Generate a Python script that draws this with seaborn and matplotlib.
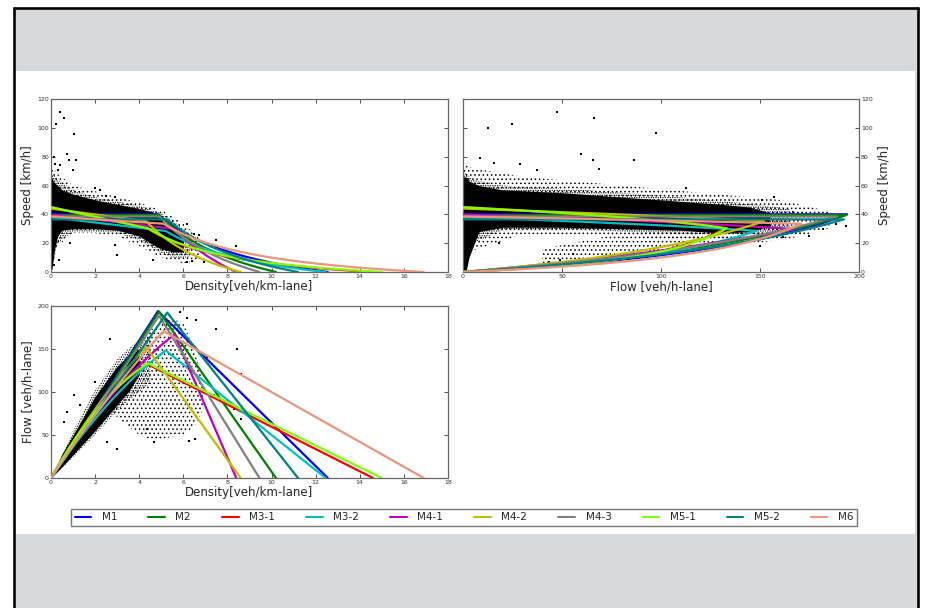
import numpy as np
import pandas as pd
import matplotlib
matplotlib.use("Agg")
import matplotlib.pyplot as plt
from matplotlib.lines import Line2D
from matplotlib.patches import Rectangle
import seaborn as sns

# ---------------- data ----------------
MODELS = ["M1", "M2", "M3-1", "M3-2", "M4-1", "M4-2", "M4-3", "M5-1", "M5-2", "M6"]
COLORS = ["#0000ff", "#008000", "#ff0000", "#00bfbf", "#bf00bf",
          "#bfbf00", "#808080", "#7fff00", "#008080", "#e9967a"]
# model parameters (fundamental diagrams)
V_FREE = [40.0, 39.5, 45.0, 38.0, 40.0, 44.0, 38.5, 45.0, 36.5, 38.5]   # km/h at k=0
V_CRIT = [40.0, 39.5, 30.0, 28.5, 29.8, 35.2, 38.5, 30.3, 36.5, 33.5]   # km/h at critical density
K_CRIT = [4.85, 4.90, 4.40, 5.20, 5.60, 4.32, 4.90, 4.40, 5.27, 5.10]   # veh/km-lane
K_JAM = [12.55, 10.2, 14.6, 12.45, 8.4, 8.6, 9.45, 15.0, 11.2, 16.9]    # veh/km-lane

# speed-density observations: dense core, fringe, sparse halo (bounds), outliers
SD_CORE_K = [0.0, 0.05, 0.15, 0.3, 0.5, 1.0, 2.0, 3.0, 4.0, 4.5, 5.0, 5.5, 6.0]
SD_CORE_LO = [2, 2, 15, 25, 29, 30, 30, 29, 25, 20, 16, 14, 14]
SD_CORE_HI = [65, 65, 62, 60, 57, 54, 50, 47, 44, 42, 38, 33, 22]
SD_FRINGE_K = [0.0, 0.3, 1.0, 2.0, 3.0, 4.0, 5.0, 5.5, 6.3]
SD_FRINGE_LO = [0, 20, 28, 28, 27, 22, 13, 10, 10]
SD_FRINGE_HI = [70, 64, 57, 52, 49, 46, 41, 36, 26]
SD_HALO_K = [0.0, 0.3, 1.0, 2.0, 3.0, 4.0, 5.0, 6.0, 6.8]
SD_HALO_LO = [0, 18, 27, 27, 25, 18, 10, 6, 8]
SD_HALO_HI = [75, 68, 60, 56, 52, 48, 43, 34, 22]
SD_OUT_K = [0.42, 0.6, 0.24, 1.03, 0.73, 0.83, 1.12, 1.0, 0.12, 0.2, 0.42, 0.3, 1.98, 2.5,
            2.9, 2.24, 0.88, 2.92, 3.0, 4.62, 6.17, 6.4, 6.95, 7.5, 8.39, 6.7, 6.17, 6.5,
            0.05, 0.12, 0.35]
SD_OUT_V = [111, 107, 103, 95.7, 81.8, 78, 78, 70.7, 80, 75, 74, 70.7, 58, 53,
            52, 56.7, 20, 18.5, 11.6, 8.6, 7, 7.9, 7.2, 22, 17.8, 25.5, 33, 26.6,
            11.6, 4.6, 8]

# speed-flow observations
SF_CORE_Q = [0, 1.5, 3, 8, 20, 50, 80, 110, 130, 145, 155]
SF_CORE_LO = [0, 0, 10, 28, 31, 31, 30, 29, 27, 28, 32]
SF_CORE_HI = [66, 66, 63, 60, 57, 55, 52, 49, 47, 45, 41]
SF_FRINGE_Q = [0, 5, 20, 60, 100, 140, 165]
SF_FRINGE_LO = [0, 20, 29, 29, 27, 26, 28]
SF_FRINGE_HI = [70, 64, 60, 57, 53, 48, 44]
SF_HALO_Q = [0, 5, 30, 80, 120, 160, 185]
SF_HALO_LO = [0, 15, 26, 25, 23, 25, 30]
SF_HALO_HI = [75, 72, 66, 60, 55, 50, 42]
SF_CONG_Q = [40, 70, 100, 130, 160, 175]
SF_CONG_LO = [6, 10, 14, 18, 22, 26]
SF_CONG_HI = [16, 24, 29, 29, 30, 32]
SF_OUT_Q = [47.7, 66.2, 24.5, 12.6, 97.5, 59.5, 86.5, 65.9, 8.4, 15.5, 28.9, 37.3, 68.9,
            112.6, 150.8, 157, 166.7, 183.5, 188.6, 193.6, 163.4, 161.7, 150, 18, 49,
            43.2, 55.8, 175, 181.8]
SF_OUT_V = [111, 106.6, 103, 99.6, 96.1, 81.8, 78, 78, 78.8, 75.3, 74.8, 70.7, 71.1,
            58.1, 49.8, 51.7, 41.7, 39.4, 33.1, 32, 29, 24.3, 17.8, 20.2, 8.1,
            7, 12.3, 24.8, 30]

# flow-density observations
FD_CORE_K = [0.0, 0.5, 1.0, 2.0, 3.0, 3.5, 4.0]
FD_CORE_LO = [0, 13, 27, 55, 85, 100, 120]
FD_CORE_HI = [0, 28, 50, 95, 130, 142, 150]
FD_FRINGE_K = [0.0, 1.0, 2.0, 3.0, 3.5, 4.0, 4.5]
FD_FRINGE_LO = [0, 24, 50, 78, 90, 100, 110]
FD_FRINGE_HI = [0, 55, 102, 138, 150, 160, 165]
FD_LATT_K = [2.8, 3.5, 4.0, 4.5, 5.0, 5.5, 6.0, 6.5, 6.9]
FD_LATT_LO = [75, 60, 50, 45, 45, 48, 50, 60, 80]
FD_LATT_HI = [115, 145, 160, 172, 180, 185, 180, 150, 110]
FD_OUT_K = [1.03, 0.57, 0.73, 1.33, 2.0, 2.54, 3.0, 4.35, 4.65, 6.24, 6.54, 8.43, 7.5,
            5.86, 6.17, 8.61, 7.07, 6.57, 2.69, 8.63, 8.28, 7.37]
FD_OUT_Q = [96.3, 65.2, 76.9, 84.7, 111.8, 41.9, 34.2, 57.5, 41.9, 43.1, 45.8, 150, 172.8,
            193.4, 185.6, 120.4, 141, 183.7, 162, 69, 80.8, 96.3]

# ---------------- model curves (derived from the parameters) ----------------
rows = []
for name, vf, vc, kc, kj in zip(MODELS, V_FREE, V_CRIT, K_CRIT, K_JAM):
    kf = np.linspace(0.0, kc, 40)
    vfr = vf - (vf - vc) * kf / kc
    qc = kc * vc
    kcg = np.linspace(kc, kj, 120)[1:]
    qcg = qc * (kj - kcg) / (kj - kc)
    vcg = qcg / kcg
    k_all = np.concatenate([kf, kcg])
    v_all = np.concatenate([vfr, vcg])
    q_all = np.concatenate([kf * vfr, qcg])
    for i, (k, v, q) in enumerate(zip(k_all, v_all, q_all)):
        rows.append((name, i, k, v, q))
curves = pd.DataFrame(rows, columns=["model", "idx", "k", "v", "q"])

# ---------------- style ----------------
sns.set_style("white", {
    "xtick.direction": "in", "ytick.direction": "in",
    "xtick.top": True, "ytick.right": True,
    "xtick.bottom": True, "ytick.left": True,
    "axes.edgecolor": "#555555",
})
plt.rcParams["font.family"] = ["DejaVu Sans"]
plt.rcParams["hatch.linewidth"] = 0.6

W, H = 929, 608
fig = plt.figure(figsize=(W / 100, H / 100), dpi=100)
fig.patch.set_facecolor("white")

# page decoration: gray frame with white panel
GRAY = "#d8d9db"
fig.patches.append(Rectangle((14 / W, 0), (918 - 14) / W, 1 - 8 / H, transform=fig.transFigure,
                             facecolor=GRAY, edgecolor="none", zorder=-10))
fig.patches.append(Rectangle((15 / W, 1 - 534 / H), (915 - 15) / W, (534 - 71) / H,
                             transform=fig.transFigure, facecolor="white",
                             edgecolor="none", zorder=-9))
for xs, ys in [([14 / W, 14 / W], [0, 1 - 8 / H]),
               ([14 / W, 918 / W], [1 - 8 / H, 1 - 8 / H]),
               ([918 / W, 918 / W], [0, 1 - 8 / H])]:
    fig.lines.append(Line2D(xs, ys, transform=fig.transFigure, color="black", lw=1.9))


def axes_px(x0, y0, x1, y1):
    return fig.add_axes([x0 / W, 1 - y1 / H, (x1 - x0) / W, (y1 - y0) / H])


ax1 = axes_px(51, 99, 448, 272)   # speed-density
ax2 = axes_px(463, 99, 859, 272)  # speed-flow
ax3 = axes_px(51, 306, 448, 478)  # flow-density

for ax in (ax1, ax2, ax3):
    ax.set_facecolor("white")


def cloud(ax, x, lo, hi, kind):
    if kind == "core":
        ax.fill_between(x, lo, hi, color="black", lw=0, zorder=1)
    elif kind == "fringe":
        ax.fill_between(x, lo, hi, facecolor="none", edgecolor="black",
                        hatch=".......", lw=0, zorder=0.95)
    else:
        ax.fill_between(x, lo, hi, facecolor="none", edgecolor="black",
                        hatch="....", lw=0, zorder=0.9)


def dots(ax, x, y):
    sns.scatterplot(x=x, y=y, ax=ax, s=3, color="black", marker="s",
                    linewidth=0, zorder=1.2, legend=False)


def model_lines(ax, xcol, ycol):
    sns.lineplot(data=curves, x=xcol, y=ycol, hue="model", hue_order=MODELS,
                 palette=COLORS, units="model", estimator=None, sort=False,
                 lw=1.6, legend=False, ax=ax, zorder=3)


# speed-density
cloud(ax1, SD_HALO_K, SD_HALO_LO, SD_HALO_HI, "halo")
cloud(ax1, SD_FRINGE_K, SD_FRINGE_LO, SD_FRINGE_HI, "fringe")
cloud(ax1, SD_CORE_K, SD_CORE_LO, SD_CORE_HI, "core")
dots(ax1, SD_OUT_K, SD_OUT_V)
model_lines(ax1, "k", "v")
ax1.set_xlim(0, 18)
ax1.set_ylim(0, 120)
ax1.set_xticks(range(0, 19, 2))
ax1.set_yticks(range(0, 121, 20))
ax1.set_xlabel("Density[veh/km-lane]", fontsize=8.5, labelpad=1)
ax1.set_ylabel("Speed [km/h]", fontsize=8.5, labelpad=2)

# speed-flow
cloud(ax2, SF_HALO_Q, SF_HALO_LO, SF_HALO_HI, "halo")
cloud(ax2, SF_CONG_Q, SF_CONG_LO, SF_CONG_HI, "halo")
cloud(ax2, SF_FRINGE_Q, SF_FRINGE_LO, SF_FRINGE_HI, "fringe")
cloud(ax2, SF_CORE_Q, SF_CORE_LO, SF_CORE_HI, "core")
dots(ax2, SF_OUT_Q, SF_OUT_V)
model_lines(ax2, "q", "v")
ax2.set_xlim(0, 200)
ax2.set_ylim(0, 120)
ax2.set_xticks(range(0, 201, 50))
ax2.set_yticks(range(0, 121, 20))
ax2.set_xlabel("Flow [veh/h-lane]", fontsize=8.5, labelpad=1)
ax2.set_ylabel("Speed [km/h]", fontsize=8.5, labelpad=4)
ax2.yaxis.set_label_position("right")
ax2.tick_params(axis="y", labelleft=False, labelright=True)

# flow-density
cloud(ax3, FD_LATT_K, FD_LATT_LO, FD_LATT_HI, "halo")
cloud(ax3, FD_FRINGE_K, FD_FRINGE_LO, FD_FRINGE_HI, "fringe")
cloud(ax3, FD_CORE_K, FD_CORE_LO, FD_CORE_HI, "core")
dots(ax3, FD_OUT_K, FD_OUT_Q)
model_lines(ax3, "k", "q")
ax3.set_xlim(0, 18)
ax3.set_ylim(0, 200)
ax3.set_xticks(range(0, 19, 2))
ax3.set_yticks(range(0, 201, 50))
ax3.set_xlabel("Density[veh/km-lane]", fontsize=8.5, labelpad=1)
ax3.set_ylabel("Flow [veh/h-lane]", fontsize=8.5, labelpad=2)

for ax in (ax1, ax2, ax3):
    ax.tick_params(labelsize=4.5, length=3, width=0.6, pad=1.5, colors="#333333")
    for sp in ax.spines.values():
        sp.set_linewidth(0.9)
        sp.set_color("#666666")

handles = [Line2D([], [], color=c, lw=1.5) for c in COLORS]
fig.legend(handles, MODELS, loc="lower left",
           bbox_to_anchor=(71 / W, 1 - 526 / H, (857 - 71) / W, 20 / H),
           mode="expand", ncol=10, fontsize=7.5, frameon=True, fancybox=False,
           edgecolor="#777777", borderaxespad=0, handlelength=1.6,
           borderpad=0.35, handletextpad=1.0, framealpha=1)

fig.savefig("out.png", dpi=100, facecolor=fig.get_facecolor())
